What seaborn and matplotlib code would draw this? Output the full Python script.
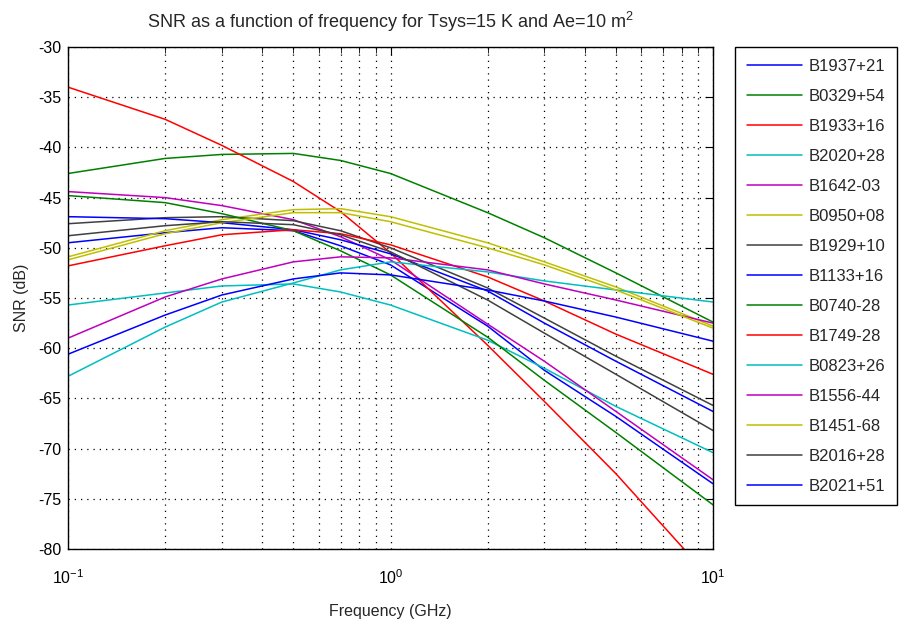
import numpy as np
import pandas as pd
import matplotlib
matplotlib.use("Agg")
import matplotlib.pyplot as plt
import seaborn as sns
from matplotlib.ticker import LogLocator, FixedLocator, NullFormatter

# ---------------- data ----------------
freqs = [0.1, 0.2, 0.3, 0.5, 0.7, 1.0, 2.0, 3.0, 5.0, 10.0]  # GHz

pulsars = ["B1937+21", "B0329+54", "B1933+16", "B2020+28", "B1642-03",
           "B0950+08", "B1929+10", "B1133+16", "B0740-28", "B1749-28",
           "B0823+26", "B1556-44", "B1451-68", "B2016+28", "B2021+51"]

snr_B1937 = [-49.5, -48.5, -48.0, -48.3, -49.8, -51.7, -57.8, -62.2, -66.8, -73.5]
snr_B0329 = [-42.6, -41.1, -40.7, -40.6, -41.3, -42.6, -46.5, -49.0, -52.5, -57.4]
snr_B1933 = [-34.0, -37.2, -39.8, -43.4, -46.4, -50.5, -59.7, -65.3, -72.5, -83.2]
snr_B2020 = [-55.7, -54.5, -53.8, -53.6, -54.4, -55.7, -59.2, -62.0, -65.8, -70.4]
snr_B1642 = [-44.4, -45.0, -45.8, -47.2, -48.9, -51.2, -57.6, -61.3, -66.3, -73.1]
snr_B0950 = [-50.9, -48.3, -47.2, -46.2, -46.1, -46.9, -49.5, -51.4, -53.9, -57.8]
snr_B1929 = [-47.6, -47.0, -46.9, -47.3, -48.3, -50.0, -54.0, -57.0, -60.8, -65.7]
snr_B1133 = [-46.9, -47.1, -47.5, -48.2, -49.2, -50.6, -54.3, -57.5, -61.3, -66.3]
snr_B0740 = [-44.8, -45.5, -46.6, -48.3, -50.3, -52.7, -58.9, -63.2, -68.4, -75.6]
snr_B1749 = [-51.8, -49.8, -48.7, -48.2, -48.6, -49.7, -52.9, -55.3, -58.6, -62.6]
snr_B0823 = [-62.8, -57.9, -55.4, -53.5, -52.2, -51.4, -52.4, -53.3, -54.2, -55.4]
snr_B1556 = [-59.0, -54.9, -53.1, -51.4, -50.9, -51.0, -52.2, -53.6, -55.2, -57.5]
snr_B1451 = [-51.2, -48.6, -47.5, -46.5, -46.5, -47.4, -50.0, -51.7, -54.2, -58.0]
snr_B2016 = [-48.8, -47.8, -47.4, -47.7, -48.7, -50.4, -55.2, -58.5, -62.6, -68.2]
snr_B2021 = [-60.6, -56.7, -54.7, -53.1, -52.5, -52.7, -54.2, -55.3, -56.9, -59.3]

series = [snr_B1937, snr_B0329, snr_B1933, snr_B2020, snr_B1642, snr_B0950,
          snr_B1929, snr_B1133, snr_B0740, snr_B1749, snr_B0823, snr_B1556,
          snr_B1451, snr_B2016, snr_B2021]

y_ticks = [-80, -75, -70, -65, -60, -55, -50, -45, -40, -35, -30]

# MATLAB-like colour order
cycle = ["#0000ff", "#008000", "#ff0000", "#00bfbf", "#bf00bf", "#bfbf00", "#404040"]
palette = [cycle[i % len(cycle)] for i in range(len(pulsars))]

rows = []
for name, vals in zip(pulsars, series):
    for f, v in zip(freqs, vals):
        rows.append({"Frequency (GHz)": f, "SNR (dB)": v, "Pulsar": name})
df = pd.DataFrame(rows)

# ---------------- plot ----------------
sns.set_style("white")
plt.rcParams["font.family"] = ["Liberation Sans", "DejaVu Sans"]
plt.rcParams["mathtext.fontset"] = "custom"
plt.rcParams["mathtext.rm"] = "Liberation Sans"
plt.rcParams["mathtext.it"] = "Liberation Sans"
plt.rcParams["axes.unicode_minus"] = False

fig = plt.figure(figsize=(9.02, 6.21), dpi=100)
ax = fig.add_axes([68 / 902, 1 - 549 / 621, (713 - 68) / 902, (549 - 47) / 621])

sns.lineplot(data=df, x="Frequency (GHz)", y="SNR (dB)", hue="Pulsar",
             hue_order=pulsars, palette=palette, estimator=None,
             linewidth=1.1, ax=ax, legend=True)

ax.set_xscale("log")
ax.set_xlim(0.1, 10)
ax.set_ylim(-80, -30)
ax.yaxis.set_major_locator(FixedLocator(y_ticks))
ax.xaxis.set_major_locator(LogLocator(base=10, numticks=10))
ax.xaxis.set_minor_locator(LogLocator(base=10, subs=np.arange(2, 10), numticks=20))
ax.xaxis.set_minor_formatter(NullFormatter())

ax.grid(True, which="major", axis="both", linestyle=(0, (1, 4)), color="black", linewidth=0.9)
ax.grid(True, which="minor", axis="x", linestyle=(0, (1, 4)), color="black", linewidth=0.9)

for s in ax.spines.values():
    s.set_color("black")
    s.set_linewidth(1.0)
ax.tick_params(which="both", direction="in", top=True, right=True, colors="black",
               labelsize=11.5)
ax.tick_params(which="major", length=6)
ax.tick_params(which="minor", length=4)
ax.tick_params(axis="x", which="major", pad=14)
ax.tick_params(axis="y", which="major", pad=5)

ax.set_xlabel("Frequency (GHz)", fontsize=11.5, labelpad=12)
ax.set_ylabel("SNR (dB)", fontsize=11.5, labelpad=6)
ax.set_title("SNR as a function of frequency for Tsys=15 K and Ae=10 m$^2$",
             fontsize=13, pad=14)

handles, labels = ax.get_legend_handles_labels()
ax.get_legend().remove()
leg = fig.legend(handles, labels, loc="upper left",
                 bbox_to_anchor=(735 / 902, 1 - 47 / 621), borderaxespad=0,
                 frameon=True, fancybox=False, edgecolor="black", framealpha=1,
                 fontsize=12, handlelength=3.3, handletextpad=0.4,
                 labelspacing=0.9, borderpad=0.7)
leg.get_frame().set_linewidth(1.0)

fig.savefig("out.png", dpi=100)
